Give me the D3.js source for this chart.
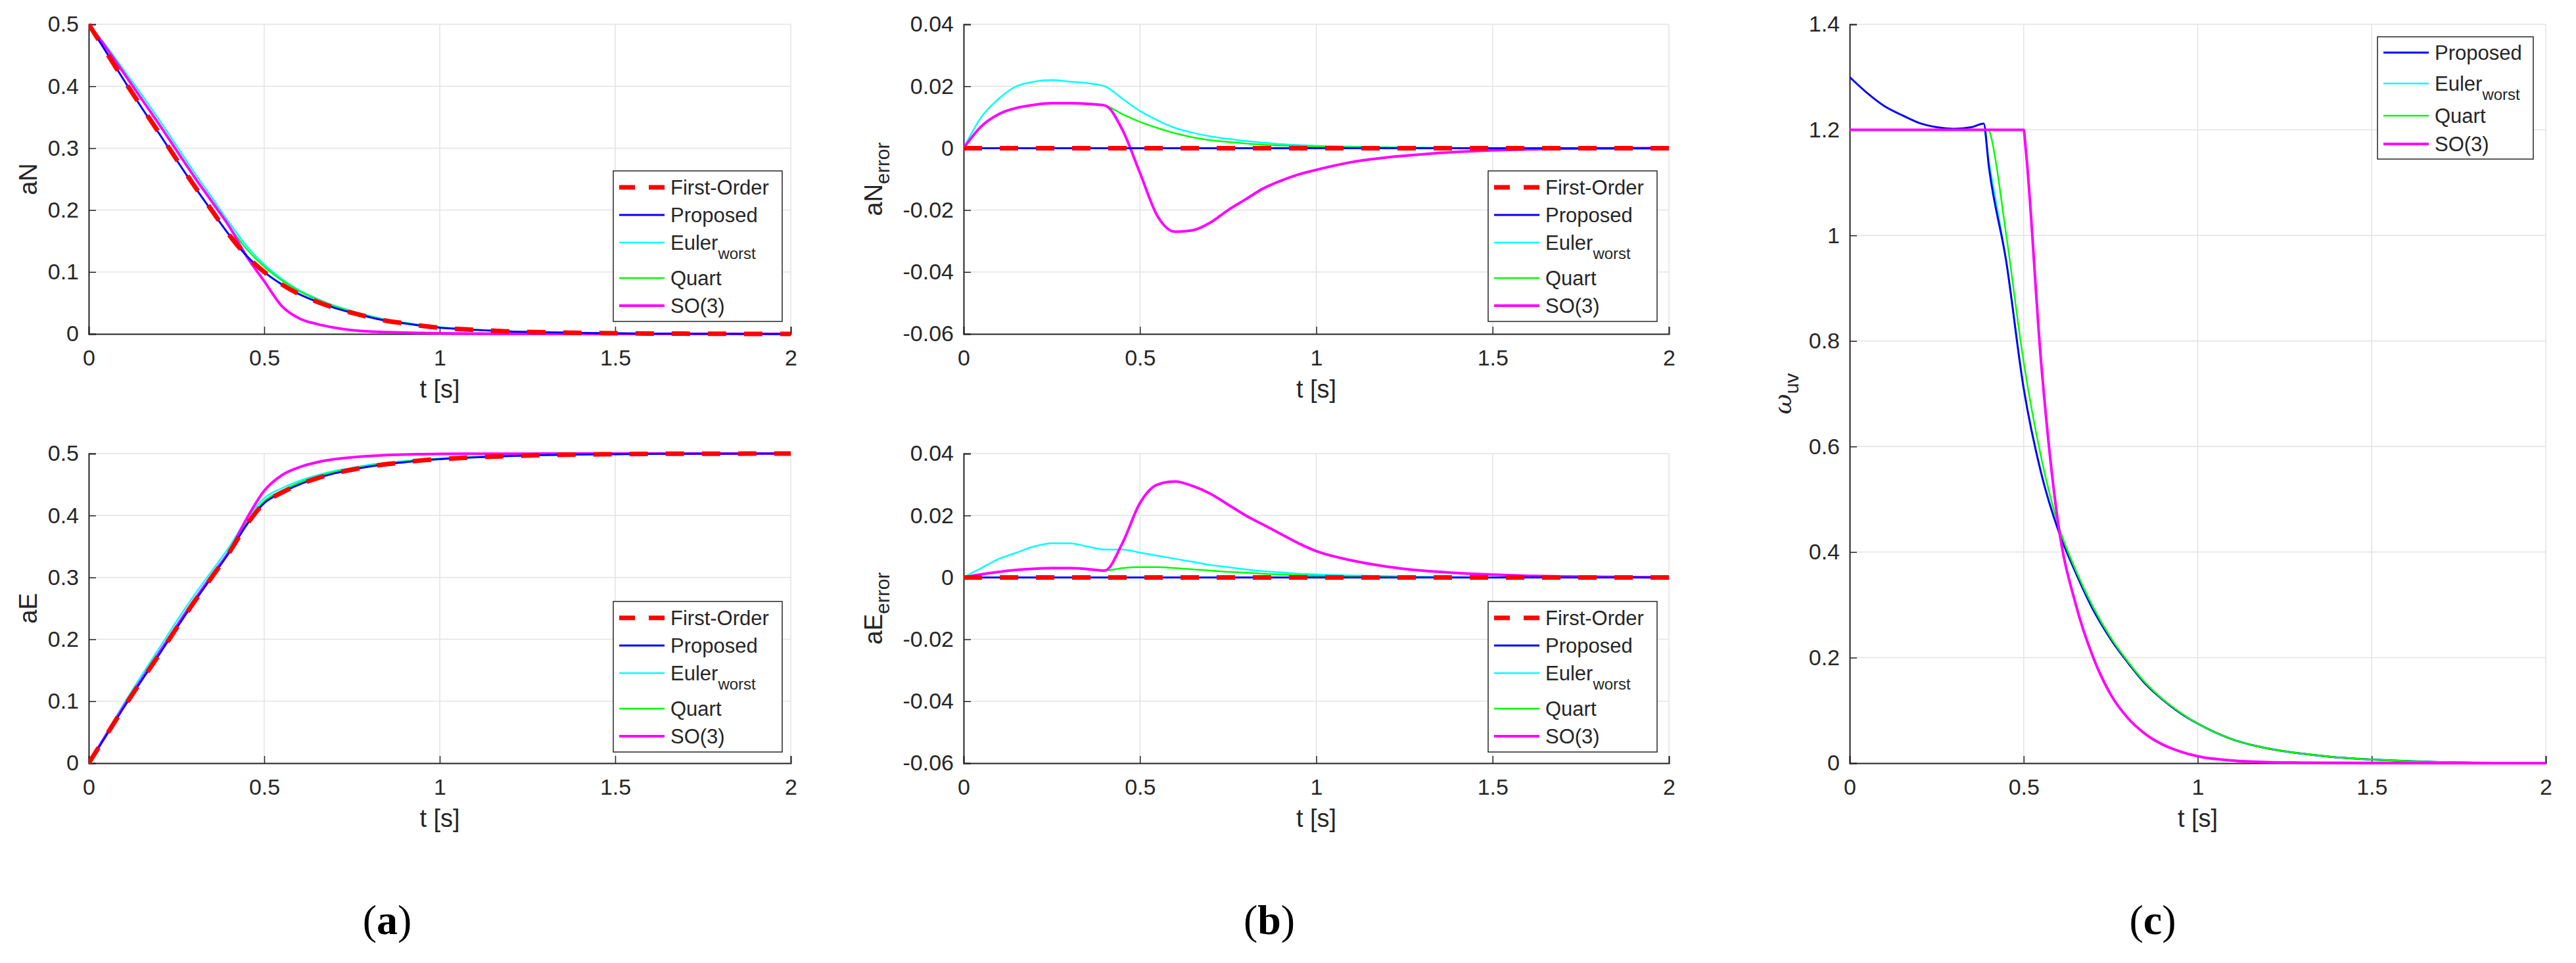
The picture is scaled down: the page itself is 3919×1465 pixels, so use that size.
<!DOCTYPE html>
<html>
<head>
<meta charset="utf-8">
<script src="https://cdnjs.cloudflare.com/ajax/libs/d3/7.8.5/d3.min.js"></script>
<style>
  body { margin: 0; background: #fff; }
  text { font-family: "Liberation Sans", Arial, sans-serif; fill: #262626; }
</style>
</head>
<body>
<script>
// time grid for panels (a) and (b)
const t = [0,0.05,0.1,0.15,0.2,0.25,0.3,0.35,0.4,0.45,0.5,0.55,0.6,0.65,0.7,0.75,0.8,0.85,0.9,0.95,1.0,
           1.1,1.2,1.3,1.4,1.5,1.6,1.7,1.8,1.9,2.0];

// (a) aN
const aN_first = [0.5,0.455,0.41,0.367,0.325,0.282,0.24,0.2,0.16,0.126,0.1,0.08,0.064,0.052,0.042,0.034,0.027,0.021,0.017,0.013,0.01,0.0065,0.004,0.0026,0.0017,0.001,0.0006,0.0004,0.0002,0.0001,0];
const aN_prop  = [0.5,0.455,0.41,0.366,0.324,0.281,0.239,0.199,0.16,0.126,0.1,0.08,0.064,0.052,0.042,0.034,0.027,0.021,0.017,0.013,0.01,0.0065,0.004,0.0026,0.0017,0.001,0.0006,0.0004,0.0002,0.0001,0];
const aN_euler = [0.5,0.465,0.426,0.387,0.3465,0.304,0.2615,0.221,0.18,0.142,0.112,0.089,0.0705,0.057,0.0458,0.037,0.0293,0.0228,0.0183,0.014,0.0108,0.007,0.0043,0.0028,0.0018,0.001,0.0006,0.0004,0.0002,0.0001,0];
const aN_quart = [0.5,0.462,0.421,0.38,0.339,0.2965,0.2545,0.2143,0.1738,0.137,0.1085,0.0865,0.0688,0.0555,0.0446,0.036,0.0285,0.0221,0.0179,0.0137,0.0105,0.0068,0.0042,0.0027,0.0017,0.001,0.0006,0.0004,0.0002,0.0001,0];
const aN_so3   = [0.5,0.462,0.421,0.38,0.339,0.2965,0.2545,0.2143,0.1738,0.125,0.085,0.045,0.025,0.016,0.01,0.006,0.004,0.003,0.002,0.0015,0.001,0.0005,0.0003,0.0002,0.0001,0,0,0,0,0,0];

// (a) aE
const aE_first = [0,0.045,0.09,0.133,0.175,0.218,0.26,0.3,0.34,0.385,0.42,0.437,0.45,0.46,0.468,0.474,0.479,0.483,0.486,0.489,0.491,0.494,0.496,0.4975,0.4985,0.499,0.4995,0.4997,0.4998,0.4999,0.5];
const aE_prop  = [0,0.045,0.09,0.133,0.175,0.218,0.26,0.3,0.34,0.385,0.42,0.437,0.45,0.46,0.468,0.474,0.479,0.483,0.486,0.489,0.491,0.494,0.496,0.4975,0.4985,0.499,0.4995,0.4997,0.4998,0.4999,0.5];
const aE_euler = [0,0.048,0.096,0.141,0.185,0.229,0.271,0.31,0.349,0.394,0.428,0.444,0.456,0.465,0.472,0.477,0.482,0.485,0.488,0.49,0.492,0.4946,0.4964,0.4977,0.4986,0.499,0.4995,0.4997,0.4998,0.4999,0.5];
const aE_quart = [0,0.046,0.092,0.135,0.178,0.221,0.263,0.303,0.342,0.388,0.423,0.44,0.453,0.4626,0.4702,0.4758,0.4805,0.4842,0.4869,0.4897,0.4915,0.4943,0.4962,0.4976,0.4985,0.499,0.4995,0.4997,0.4998,0.4999,0.5];
const aE_so3   = [0,0.046,0.092,0.135,0.178,0.221,0.263,0.303,0.342,0.395,0.44,0.465,0.478,0.486,0.491,0.494,0.496,0.4975,0.4985,0.499,0.4995,0.4997,0.4998,0.4999,0.5,0.5,0.5,0.5,0.5,0.5,0.5];

// (b) aN error
const zeros = [0,0,0,0,0,0,0,0,0,0,0,0,0,0,0,0,0,0,0,0,0,0,0,0,0,0,0,0,0,0,0];
const eN_euler = [0,0.01,0.016,0.02,0.0215,0.022,0.0215,0.021,0.02,0.016,0.012,0.009,0.0065,0.005,0.0038,0.003,0.0023,0.0018,0.0013,0.001,0.0008,0.0005,0.0003,0.0002,0.0001,0,0,0,0,0,0];
const eN_quart = [0,0.007,0.011,0.013,0.014,0.0145,0.0145,0.0143,0.0138,0.011,0.0085,0.0065,0.0048,0.0035,0.0026,0.002,0.0015,0.0011,0.0009,0.0007,0.0005,0.0003,0.0002,0.0001,0,0,0,0,0,0,0];
const eN_so3   = [0,0.007,0.011,0.013,0.014,0.0145,0.0145,0.0143,0.0138,0.006,-0.008,-0.022,-0.027,-0.0265,-0.024,-0.02,-0.0165,-0.013,-0.0105,-0.0085,-0.007,-0.0045,-0.003,-0.002,-0.0012,-0.0007,-0.0004,-0.0002,-0.0001,0,0];

// (b) aE error
const eE_euler = [0,0.003,0.006,0.008,0.01,0.011,0.011,0.01,0.009,0.009,0.008,0.007,0.006,0.005,0.004,0.0033,0.0026,0.002,0.0016,0.0012,0.001,0.0006,0.0004,0.0002,0.0001,0,0,0,0,0,0];
const eE_quart = [0,0.001,0.0018,0.0024,0.0028,0.003,0.003,0.0027,0.0022,0.003,0.0033,0.0033,0.003,0.0026,0.0022,0.0018,0.0015,0.0012,0.0009,0.0007,0.0005,0.0003,0.0002,0.0001,0,0,0,0,0,0,0];
const eE_so3   = [0,0.001,0.0018,0.0024,0.0028,0.003,0.003,0.0027,0.0022,0.011,0.024,0.03,0.031,0.0295,0.027,0.0235,0.02,0.017,0.014,0.011,0.0085,0.0055,0.0035,0.0022,0.0014,0.0009,0.0005,0.0003,0.0002,0.0001,0];

// (c) omega_uv, own time grids
const tc_prop  = [0,0.05,0.1,0.15,0.2,0.25,0.3,0.35,0.385,0.4,0.45,0.5,0.55,0.6,0.65,0.7,0.75,0.8,0.85,0.9,0.95,1.0,1.1,1.2,1.3,1.4,1.5,1.6,1.7,1.8,1.9,2.0];
const w_prop   = [1.3,1.27,1.245,1.228,1.213,1.205,1.202,1.205,1.212,1.13,0.95,0.71,0.55,0.44,0.36,0.29,0.235,0.19,0.15,0.12,0.095,0.075,0.045,0.028,0.018,0.011,0.007,0.004,0.002,0.001,0.0005,0];
const w_euler  = [1.2,1.2,1.2,1.2,1.2,1.2,1.2,1.2,1.2,1.14,0.95,0.71,0.55,0.44,0.36,0.29,0.235,0.19,0.15,0.12,0.095,0.075,0.045,0.028,0.018,0.011,0.007,0.004,0.002,0.001,0.0005,0];
const tc_quart = [0,0.1,0.2,0.3,0.4,0.405,0.45,0.5,0.55,0.6,0.65,0.7,0.75,0.8,0.85,0.9,0.95,1.0,1.1,1.2,1.3,1.4,1.5,1.6,1.7,1.8,1.9,2.0];
const w_quart  = [1.2,1.2,1.2,1.2,1.2,1.19,1.0,0.76,0.58,0.45,0.365,0.295,0.238,0.192,0.152,0.121,0.096,0.075,0.045,0.028,0.018,0.011,0.007,0.004,0.002,0.001,0.0005,0];
const tc_so3   = [0,0.1,0.2,0.3,0.4,0.5,0.505,0.55,0.6,0.65,0.7,0.75,0.8,0.85,0.9,0.95,1.0,1.1,1.2,1.3,1.4,1.6,2.0];
const w_so3    = [1.2,1.2,1.2,1.2,1.2,1.2,1.17,0.76,0.45,0.3,0.2,0.13,0.085,0.055,0.035,0.022,0.013,0.005,0.002,0.001,0.0005,0.0002,0];

const xTicks = [0,0.5,1,1.5,2];
const yTicksA = [0,0.1,0.2,0.3,0.4,0.5];
const yTicksB = [-0.06,-0.04,-0.02,0,0.02,0.04];
const yTicksC = [0,0.2,0.4,0.6,0.8,1,1.2,1.4];

const styles = {
  first: { name: "First-Order", color: "#ff0000", width: 7, dash: "28,27" },
  prop:  { name: "Proposed", color: "#0000ff", width: 3 },
  euler: { name: "Euler", sub: "worst", color: "#00ffff", width: 2.5 },
  quart: { name: "Quart", color: "#00ff00", width: 2.5 },
  so3:   { name: "SO(3)", color: "#ff00ff", width: 4 }
};

const svg = d3.select("body").append("svg").attr("width", 3919).attr("height", 1465);

function panel(o) {
  const x = d3.scaleLinear().domain([0, 2]).range([o.left, o.right]);
  const y = d3.scaleLinear().domain(o.ydom).range([o.bottom, o.top]);
  const g = svg.append("g");
  // grid
  g.selectAll(".gx").data(xTicks).join("line")
    .attr("x1", d => x(d)).attr("x2", d => x(d)).attr("y1", o.top).attr("y2", o.bottom)
    .attr("stroke", "#e3e3e3").attr("stroke-width", 1.5);
  g.selectAll(".gy").data(o.yticks).join("line")
    .attr("x1", o.left).attr("x2", o.right).attr("y1", d => y(d)).attr("y2", d => y(d))
    .attr("stroke", "#e3e3e3").attr("stroke-width", 1.5);
  // axes
  const ax = g.append("g").attr("transform", `translate(0,${o.bottom})`)
    .call(d3.axisBottom(x).tickValues(xTicks).tickSize(-11).tickPadding(24).tickFormat(d3.format("")));
  const ay = g.append("g").attr("transform", `translate(${o.left},0)`)
    .call(d3.axisLeft(y).tickValues(o.yticks).tickSize(-11).tickPadding(15).tickFormat(o.fmt));
  [ax, ay].forEach(a => {
    a.select(".domain").attr("stroke", "#262626").attr("stroke-width", 2);
    a.selectAll(".tick line").attr("stroke", "#262626").attr("stroke-width", 1.5);
    a.selectAll("text").attr("font-size", 34).attr("fill", "#262626")
      .attr("font-family", "'Liberation Sans', Arial, sans-serif");
  });
  g.append("text").attr("x", (o.left + o.right) / 2).attr("y", o.bottom + 97)
    .attr("text-anchor", "middle").attr("font-size", 38).text("t [s]");
  const yl = g.append("text")
    .attr("transform", `translate(${o.ylx},${(o.top + o.bottom) / 2}) rotate(-90)`)
    .attr("text-anchor", "middle").attr("font-size", 38);
  if (o.ylabelItalic) {
    yl.append("tspan").attr("font-style", "italic").attr("font-family", "'DejaVu Serif', serif").text(o.ylabel);
  } else yl.append("tspan").text(o.ylabel);
  if (o.ysub) yl.append("tspan").attr("dy", 11).attr("font-size", 30).text(o.ysub);

  // lines
  const clipId = "c" + Math.round(o.left) + "_" + Math.round(o.top);
  svg.append("clipPath").attr("id", clipId).append("rect")
    .attr("x", o.left).attr("y", o.top - 5).attr("width", o.right - o.left).attr("height", o.bottom - o.top + 10);
  const lg = g.append("g").attr("clip-path", `url(#${clipId})`);
  o.series.forEach(s => {
    const st = styles[s.key];
    const pts = s.ts.map((tt, i) => [tt, s.vals[i]]);
    lg.append("path").attr("d", d3.line().x(d => x(d[0])).y(d => y(d[1])).curve(d3.curveMonotoneX)(pts))
      .attr("fill", "none").attr("stroke", st.color).attr("stroke-width", st.width)
      .attr("stroke-dasharray", st.dash || null);
  });

  // legend
  const L = o.legend;
  g.append("rect").attr("x", L.x).attr("y", L.y).attr("width", L.w).attr("height", L.h)
    .attr("fill", "#fff").attr("stroke", "#262626").attr("stroke-width", 1.5);
  o.series.slice().sort((a, b) => o.order.indexOf(a.key) - o.order.indexOf(b.key)).forEach((s, i) => {
    const st = styles[s.key];
    const ry = L.rows[i];
    g.append("line").attr("x1", L.x + 9).attr("x2", L.x + 78).attr("y1", ry).attr("y2", ry)
      .attr("stroke", st.color).attr("stroke-width", st.width).attr("stroke-dasharray", st.dash ? "24,21" : null);
    const tx = g.append("text").attr("x", L.x + 87).attr("y", ry + 11).attr("font-size", 31);
    tx.append("tspan").text(st.name);
    if (st.sub) tx.append("tspan").attr("dy", 14).attr("font-size", 24).text(st.sub);
  });
}

const fmtA = d3.format("");
const fmtB = d => d === 0 ? "0" : d.toFixed(2);
const order5 = ["first", "prop", "euler", "quart", "so3"];
const rowsTop = [285, 327, 369, 423, 465];
const rowsBot = rowsTop.map(r => r + 655);

function five(a, b, c, d, e) {
  return [
    { key: "euler", ts: t, vals: c },
    { key: "quart", ts: t, vals: d },
    { key: "so3", ts: t, vals: e },
    { key: "prop", ts: t, vals: b },
    { key: "first", ts: t, vals: a }
  ];
}

// (a)
panel({ left: 135, right: 1203, top: 37, bottom: 508, ydom: [0, 0.5], yticks: yTicksA, fmt: fmtA,
  ylabel: "aN", ylx: 56, order: order5, series: five(aN_first, aN_prop, aN_euler, aN_quart, aN_so3),
  legend: { x: 933, y: 260, w: 257, h: 229, rows: rowsTop } });
panel({ left: 135, right: 1203, top: 690, bottom: 1161, ydom: [0, 0.5], yticks: yTicksA, fmt: fmtA,
  ylabel: "aE", ylx: 56, order: order5, series: five(aE_first, aE_prop, aE_euler, aE_quart, aE_so3),
  legend: { x: 933, y: 915, w: 257, h: 229, rows: rowsBot } });
// (b)
panel({ left: 1466, right: 2539, top: 37, bottom: 508, ydom: [-0.06, 0.04], yticks: yTicksB, fmt: fmtB,
  ylabel: "aN", ysub: "error", ylx: 1342, order: order5, series: five(zeros, zeros, eN_euler, eN_quart, eN_so3),
  legend: { x: 2264, y: 260, w: 257, h: 229, rows: rowsTop } });
panel({ left: 1466, right: 2539, top: 690, bottom: 1161, ydom: [-0.06, 0.04], yticks: yTicksB, fmt: fmtB,
  ylabel: "aE", ysub: "error", ylx: 1342, order: order5, series: five(zeros, zeros, eE_euler, eE_quart, eE_so3),
  legend: { x: 2264, y: 915, w: 257, h: 229, rows: rowsBot } });
// (c)
panel({ left: 2814, right: 3873, top: 37, bottom: 1161, ydom: [0, 1.4], yticks: yTicksC, fmt: fmtA,
  ylabel: "ω", ylabelItalic: true, ysub: "uv", ylx: 2725, order: ["prop", "euler", "quart", "so3"],
  series: [
    { key: "euler", ts: tc_prop, vals: w_euler },
    { key: "prop", ts: tc_prop, vals: w_prop },
    { key: "quart", ts: tc_quart, vals: w_quart },
    { key: "so3", ts: tc_so3, vals: w_so3 }
  ],
  legend: { x: 3617, y: 56, w: 237, h: 186, rows: [80, 127, 176, 219] } });

// panel letters
[["a", 589], ["b", 1931], ["c", 3275]].forEach(([l, cx]) => {
  const tx = svg.append("text").attr("x", cx).attr("y", 1421).attr("text-anchor", "middle")
    .attr("font-size", 64).style("font-family", "'Liberation Serif', 'DejaVu Serif', serif").style("fill", "#000");
  tx.append("tspan").text("(");
  tx.append("tspan").attr("font-weight", "bold").text(l);
  tx.append("tspan").text(")");
});
</script>
</body>
</html>
